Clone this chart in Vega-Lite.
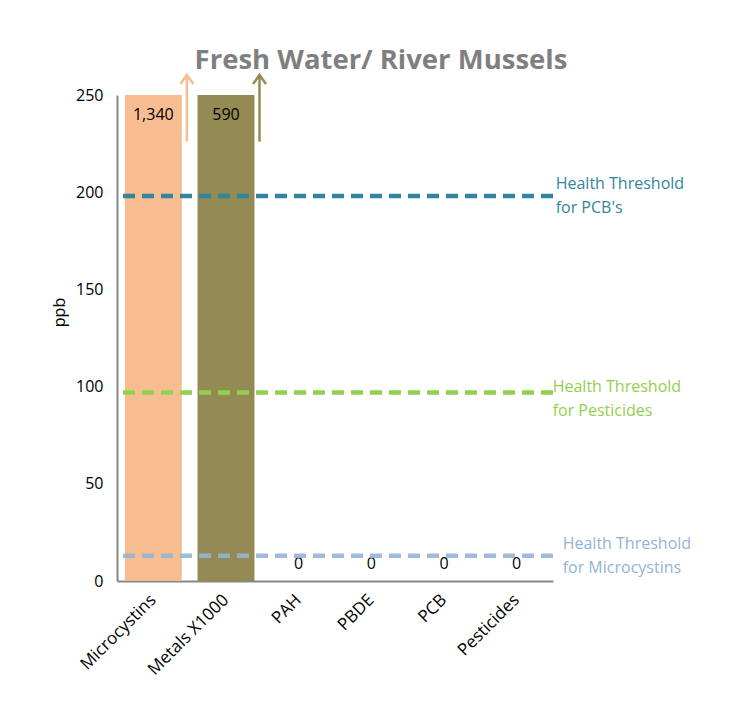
{
  "$schema": "https://vega.github.io/schema/vega-lite/v6.json",
  "width": 436,
  "height": 486,
  "autosize": {"type": "none"},
  "padding": {"left": 117, "top": 95, "right": 193, "bottom": 144},
  "background": "white",
  "config": {"view": {"stroke": null}, "font": "Open Sans"},
  "title": {
    "text": "Fresh Water/ River Mussels",
    "font": "Open Sans",
    "fontSize": 27.5,
    "fontWeight": "bold",
    "color": "#7F7F7F",
    "anchor": "middle",
    "frame": "group",
    "dx": 46,
    "baseline": "alphabetic",
    "offset": -27
  },
  "datasets": {
    "bars": [
      {"category": "Microcystins", "value": 1340},
      {"category": "Metals X1000", "value": 590},
      {"category": "PAH", "value": 0},
      {"category": "PBDE", "value": 0},
      {"category": "PCB", "value": 0},
      {"category": "Pesticides", "value": 0}
    ],
    "arrows": [
      {"category": "Microcystins", "from": 226, "to": 250},
      {"category": "Metals X1000", "from": 226, "to": 250}
    ],
    "pcb": [{"threshold": 198, "label": "Health Threshold\nfor PCB's"}],
    "pest": [{"threshold": 97, "label": "Health Threshold\nfor Pesticides"}],
    "micro": [{"threshold": 13, "label": "Health Threshold\nfor Microcystins"}]
  },
  "layer": [
    {
      "data": {"name": "bars"},
      "mark": {"type": "bar"},
      "encoding": {
        "x": {
          "field": "category",
          "type": "nominal",
          "sort": null,
          "scale": {
            "domain": ["Microcystins", "Metals X1000", "PAH", "PBDE", "PCB", "Pesticides"],
            "paddingInner": 0.216,
            "paddingOuter": 0.108
          },
          "axis": {
            "title": null,
            "domainColor": "#868686",
            "domainWidth": 2,
            "ticks": false,
            "labelAngle": -45,
            "labelAlign": "right",
            "labelBaseline": "middle",
            "labelFontSize": 17,
            "labelColor": "#000000",
            "labelPadding": 16
          }
        },
        "y": {
          "field": "value",
          "type": "quantitative",
          "scale": {"domain": [0, 250], "clamp": true, "nice": false},
          "axis": {
            "title": "ppb",
            "titleFontSize": 16,
            "titleFontWeight": "normal",
            "titleColor": "#000000",
            "titlePadding": 8,
            "titleY": 217,
            "values": [0, 50, 100, 150, 200, 250],
            "grid": false,
            "ticks": false,
            "domainColor": "#868686",
            "domainWidth": 2,
            "labelFontSize": 16,
            "labelColor": "#000000",
            "labelPadding": 14
          }
        },
        "color": {
          "field": "category",
          "type": "nominal",
          "scale": {
            "domain": ["Microcystins", "Metals X1000", "PAH", "PBDE", "PCB", "Pesticides"],
            "range": ["#F6BE90", "#948A54", "#948A54", "#948A54", "#948A54", "#948A54"]
          },
          "legend": null
        }
      }
    },
    {
      "data": {"name": "bars"},
      "transform": [{"filter": "datum.value > 0"}],
      "mark": {"type": "text", "baseline": "top", "dy": 12, "fontSize": 16, "color": "#000000"},
      "encoding": {
        "x": {"field": "category", "type": "nominal", "sort": null},
        "y": {"field": "value", "type": "quantitative"},
        "text": {"field": "value", "type": "quantitative", "format": ","}
      }
    },
    {
      "data": {"name": "bars"},
      "transform": [{"filter": "datum.value == 0"}],
      "mark": {"type": "text", "baseline": "alphabetic", "dy": -12, "fontSize": 16, "color": "#000000"},
      "encoding": {
        "x": {"field": "category", "type": "nominal", "sort": null},
        "y": {"field": "value", "type": "quantitative"},
        "text": {"field": "value", "type": "quantitative"}
      }
    },
    {
      "data": {"name": "pcb"},
      "mark": {"type": "rule", "color": "#31859C", "strokeWidth": 4.5, "strokeDash": [12, 7]},
      "encoding": {"y": {"field": "threshold", "type": "quantitative"}}
    },
    {
      "data": {"name": "pest"},
      "mark": {"type": "rule", "color": "#92D050", "strokeWidth": 4.5, "strokeDash": [12, 7]},
      "encoding": {"y": {"field": "threshold", "type": "quantitative"}}
    },
    {
      "data": {"name": "micro"},
      "mark": {"type": "rule", "color": "#95B3D7", "strokeWidth": 4.5, "strokeDash": [12, 7], "opacity": 0.9},
      "encoding": {"y": {"field": "threshold", "type": "quantitative"}}
    },
    {
      "data": {"name": "pcb"},
      "mark": {"type": "text", "align": "left", "baseline": "middle", "dx": 39, "dy": -12, "fontSize": 16, "lineHeight": 24, "lineBreak": "\n", "color": "#31859C"},
      "encoding": {
        "x": {"datum": "Pesticides"},
        "y": {"field": "threshold", "type": "quantitative"},
        "text": {"field": "label"}
      }
    },
    {
      "data": {"name": "pest"},
      "mark": {"type": "text", "align": "left", "baseline": "middle", "dx": 36, "dy": -5, "fontSize": 16, "lineHeight": 24, "lineBreak": "\n", "color": "#92D050"},
      "encoding": {
        "x": {"datum": "Pesticides"},
        "y": {"field": "threshold", "type": "quantitative"},
        "text": {"field": "label"}
      }
    },
    {
      "data": {"name": "micro"},
      "mark": {"type": "text", "align": "left", "baseline": "middle", "dx": 46, "dy": -12, "fontSize": 16, "lineHeight": 24, "lineBreak": "\n", "color": "#95B3D7"},
      "encoding": {
        "x": {"datum": "Pesticides"},
        "y": {"field": "threshold", "type": "quantitative"},
        "text": {"field": "label"}
      }
    },
    {
      "data": {"name": "arrows"},
      "mark": {"type": "rule", "strokeWidth": 2.5, "xOffset": 33.5, "y2Offset": -20},
      "encoding": {
        "x": {"field": "category", "type": "nominal", "sort": null},
        "y": {"field": "from", "type": "quantitative"},
        "y2": {"field": "to"},
        "color": {"field": "category", "type": "nominal"}
      }
    },
    {
      "data": {"name": "arrows"},
      "mark": {"type": "point", "shape": "M-1,0.7L0,-0.7L1,0.7", "filled": false, "strokeWidth": 2.5, "size": 169, "opacity": 1, "xOffset": 33.5, "yOffset": -15.5},
      "encoding": {
        "x": {"field": "category", "type": "nominal", "sort": null},
        "y": {"field": "to", "type": "quantitative"},
        "color": {"field": "category", "type": "nominal"}
      }
    }
  ]
}
